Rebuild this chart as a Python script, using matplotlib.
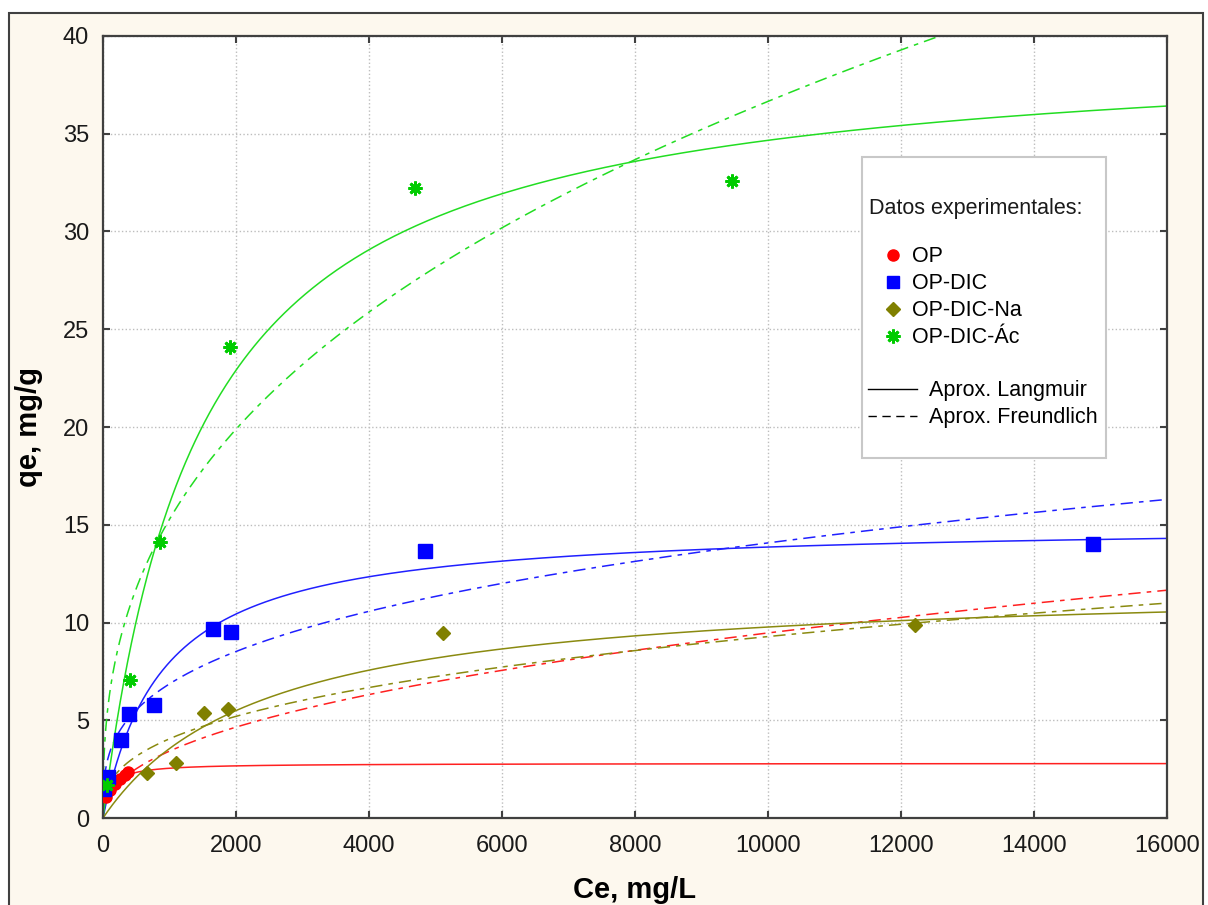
import numpy as np
import matplotlib
matplotlib.use("Agg")
import matplotlib.pyplot as plt
from matplotlib.patches import Rectangle
from matplotlib.lines import Line2D

plt.rcParams['font.family'] = ['Liberation Sans', 'DejaVu Sans']

# experimental points (Ce mg/L, qe mg/g)
op_ce = [45, 105, 180, 255, 330, 376]
op_qe = [1.07, 1.43, 1.74, 1.99, 2.2, 2.35]

dic_ce = [20, 75, 271, 391, 767, 1654, 1925, 4842, 14887]
dic_qe = [1.5, 2.1, 3.99, 5.32, 5.78, 9.67, 9.51, 13.66, 14.0]

na_ce = [662, 1098, 1519, 1880, 5113, 12211]
na_qe = [2.3, 2.81, 5.37, 5.58, 9.46, 9.87]

ac_ce = [60, 406, 857, 1910, 4692, 9459]
ac_qe = [1.7, 7.06, 14.1, 24.1, 32.2, 32.6]

series = ['OP', 'OP-DIC', 'OP-DIC-Na', 'OP-DIC-Ác']
colors = ['#ff0000', '#0000ff', '#808000', '#00cc00']
line_colors = ['#ff2020', '#2020ff', '#8a8a10', '#22dd22']

# fitted model parameters
lang_qmax = [2.8, 15.1, 12.13, 39.77]
lang_k = [0.01, 1.118e-3, 4.14e-4, 6.79e-4]
freu_kf = [0.1615, 0.795, 0.337, 1.107]
freu_n = [1 / 0.442, 1 / 0.312, 1 / 0.36, 1 / 0.38]

fig = plt.figure(figsize=(12.08, 9.05), dpi=100, facecolor='white')
fig.add_artist(Rectangle((9 / 1208, -0.05), 1194 / 1208, 1.05 - 13 / 905,
                         transform=fig.transFigure, facecolor='#fdf8ee',
                         edgecolor='#404040', linewidth=1.5, zorder=0))
ax = fig.add_axes([103 / 1208, 1 - 818 / 905, 1064 / 1208, 782 / 905])
ax.set_facecolor('white')

c = np.concatenate([[0], np.geomspace(1, 16000, 800)])
for i in range(4):
    ql = lang_qmax[i] * lang_k[i] * c / (1 + lang_k[i] * c)
    qf = freu_kf[i] * c ** (1 / freu_n[i])
    ax.plot(c, ql, color=line_colors[i], lw=1.1, zorder=2)
    ax.plot(c, qf, color=line_colors[i], lw=1.1, dashes=[8, 4, 3, 4], zorder=2)

ax.plot(op_ce, op_qe, 'o', color=colors[0], ms=8, mec=colors[0], ls='none', zorder=3)
ax.plot(dic_ce, dic_qe, 's', color=colors[1], ms=9.5, ls='none', zorder=3)
ax.plot(na_ce, na_qe, 'D', color=colors[2], ms=7.5, ls='none', zorder=3)
ax.plot(ac_ce, ac_qe, marker=(8, 2, 0), color=colors[3], ms=10, mew=2, ls='none', zorder=4)

ax.set_xlim(0, 16000)
ax.set_ylim(0, 40)
ax.set_xticks(np.arange(0, 16001, 2000))
ax.set_yticks(np.arange(0, 41, 5))
ax.grid(True, linestyle=':', color='#bdbdbd', linewidth=1)
for s in ax.spines.values():
    s.set_color('#404040')
    s.set_linewidth(1.6)
ax.tick_params(direction='in', length=5, width=1.5, colors='#404040',
               top=True, right=True, labelsize=17, labelcolor='#1a1a1a')
ax.tick_params(axis='x', pad=12)
ax.tick_params(axis='y', pad=10)

ax.set_xlabel('Ce, mg/L', fontsize=21, fontweight='bold')
ax.set_ylabel('qe, mg/g', fontsize=21, fontweight='bold')
ax.xaxis.set_label_coords(0.5, -0.074)
ax.yaxis.set_label_coords(-0.056, 0.5)

# legend box
ax.add_patch(Rectangle((0.7133, 0.4604), 0.2294, 0.3849, transform=ax.transAxes,
                       facecolor='white', edgecolor='#c8c8c8', lw=1.5, zorder=5))
ax.text(0.7199, 0.7800, 'Datos experimentales:', transform=ax.transAxes,
        fontsize=15.5, va='center', ha='left', zorder=6, color='#1a1a1a')

mk = [Line2D([], [], marker='o', color=colors[0], ms=8, ls='none'),
      Line2D([], [], marker='s', color=colors[1], ms=9, ls='none'),
      Line2D([], [], marker='D', color=colors[2], ms=7, ls='none'),
      Line2D([], [], marker=(8, 2, 0), color=colors[3], ms=10, mew=2, ls='none')]
leg1 = ax.legend(mk, series, loc='upper left', bbox_to_anchor=(0.7321, 0.7310),
                 frameon=False, fontsize=15.5, handlelength=1.0, handletextpad=0.4,
                 labelspacing=0.28, borderpad=0, borderaxespad=0)
leg1.set_zorder(6)
ax.add_artist(leg1)

ln = [Line2D([], [], color='black', lw=1),
      Line2D([], [], color='black', lw=1, dashes=[6, 4])]
leg2 = ax.legend(ln, ['Aprox. Langmuir', 'Aprox. Freundlich'], loc='upper left',
                 bbox_to_anchor=(0.719, 0.5600), frameon=False, fontsize=15.5,
                 handlelength=2.28, handletextpad=0.56, labelspacing=0.28,
                 borderpad=0, borderaxespad=0)
leg2.set_zorder(6)

fig.savefig('out.png', dpi=100, facecolor='white')
